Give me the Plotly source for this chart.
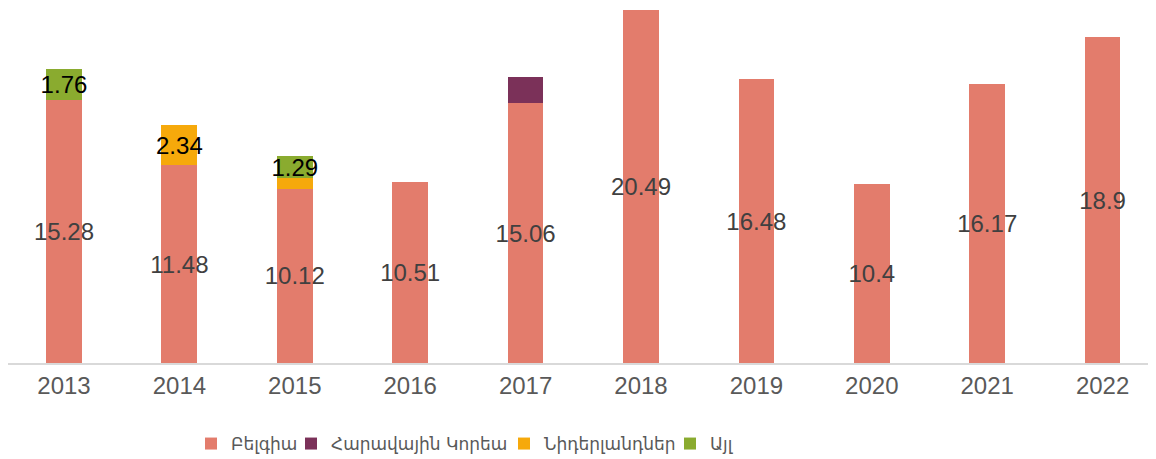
import plotly.graph_objects as go

years = ["2013", "2014", "2015", "2016", "2017", "2018", "2019", "2020", "2021", "2022"]
belgium = [15.28, 11.48, 10.12, 10.51, 15.06, 20.49, 16.48, 10.4, 16.17, 18.9]
korea = [0, 0, 0, 0, 1.55, 0, 0, 0, 0, 0]
netherlands = [0, 2.34, 0.6, 0, 0, 0, 0, 0, 0, 0]
other = [1.76, 0, 1.29, 0, 0, 0, 0, 0, 0, 0]

names = ["Բելգիա", "Հարավային Կորեա", "Նիդերլանդներ", "Այլ"]
colors = ["#e37c6c", "#7b3159", "#f6a90b", "#8aab2f"]

belgium_text = [f"{v:g}" for v in belgium]
korea_text = ["" for v in korea]
netherlands_text = ["", "2.34", "", "", "", "", "", "", "", ""]
other_text = ["1.76", "", "1.29", "", "", "", "", "", "", ""]

series = [
    (belgium, belgium_text, "#404040"),
    (korea, korea_text, "#000000"),
    (netherlands, netherlands_text, "#000000"),
    (other, other_text, "#000000"),
]
legend_ids = ["legend", "legend2", "legend3", "legend4"]
legend_x_px = [183, 283, 496, 662]

W, H = 1156, 459
ML, MR, MT, MB = 0, 0, 0, 104
plot_w = W - ML - MR
plot_h = H - MT - MB

fig = go.Figure()
for (vals, txt, tcol), name, col, lid in zip(series, names, colors, legend_ids):
    fig.add_trace(go.Bar(
        x=years, y=vals, name=name, legend=lid,
        marker=dict(color=col, line=dict(width=0)),
        text=txt, textposition="inside", insidetextanchor="middle",
        textangle=0, constraintext="none",
        textfont=dict(family="Liberation Sans, Arial, sans-serif", size=24, color=tcol),
        hoverinfo="skip",
    ))

leg_font = dict(family="DejaVu Sans, sans-serif", size=17, color="#595959")
leg_y = (plot_h - 436 + MT) / plot_h
legends = {}
for lid, px in zip(legend_ids, legend_x_px):
    legends[lid] = dict(
        orientation="h", x=(px - ML) / plot_w, xanchor="left",
        y=leg_y, yanchor="middle", font=leg_font,
        bgcolor="rgba(0,0,0,0)", itemwidth=30,
    )

fig.update_layout(
    barmode="stack",
    bargap=0.69,
    width=W, height=H,
    margin=dict(l=ML, r=MR, t=MT, b=MB),
    paper_bgcolor="white", plot_bgcolor="white",
    uniformtext=dict(minsize=24, mode="show"),
    showlegend=True,
    xaxis=dict(
        type="category", range=[-0.485, 9.532],
        showline=True, linecolor="#d9d9d9", linewidth=1.5,
        ticks="", showgrid=False,
        tickfont=dict(family="Liberation Sans, Arial, sans-serif", size=24, color="#595959"),
    ),
    yaxis=dict(
        range=[0, 20.6], visible=False, showgrid=False, zeroline=False,
    ),
    **legends,
)

fig.write_html("out.html")
